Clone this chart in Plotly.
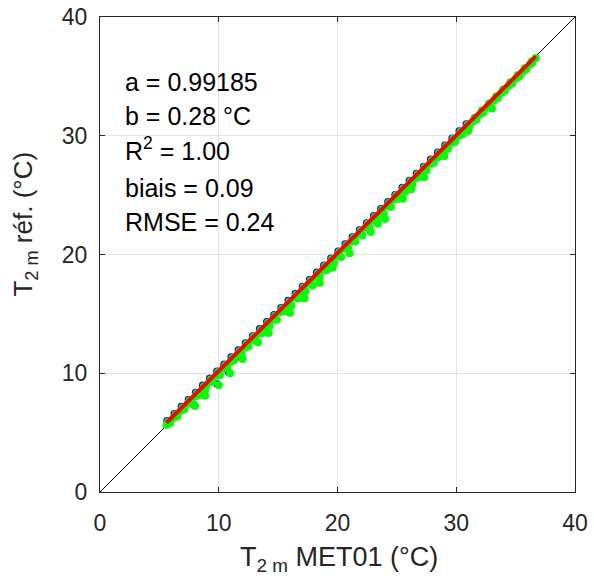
import plotly.graph_objects as go

# ---- data ----
green_x = [5.6, 6.2, 6.8, 7.4, 8.0, 8.6, 9.2, 9.8, 10.4, 11.0, 11.6, 12.2, 12.8, 13.4, 14.0, 14.6,
           15.2, 15.8, 16.4, 17.0, 17.6, 18.2, 18.8, 19.4, 20.0, 20.6, 21.2, 21.8, 22.4, 23.0, 23.6,
           24.2, 24.8, 25.4, 26.0, 26.6, 27.2, 27.8, 28.4, 29.0, 29.6, 30.2, 30.8, 31.4, 32.0, 32.6,
           33.2, 33.8, 34.4, 35.0, 35.6, 36.2, 36.7,
           5.9, 6.5, 7.1, 7.7, 8.3, 8.9, 9.5, 10.1, 10.7, 11.3, 11.9, 12.5, 13.1, 13.7, 14.3, 14.9,
           15.5, 16.1, 16.7, 17.3, 17.9, 18.5, 19.1, 19.7, 20.3, 20.9, 21.5, 22.1, 22.7, 23.3, 23.9,
           24.5, 25.1, 25.7, 26.3, 26.9, 27.5, 28.1, 28.7, 29.3, 29.9, 30.5, 31.1, 31.7, 32.3, 32.9,
           33.5, 34.1, 34.7, 35.3, 35.9, 36.4,
           5.75, 6.35, 6.95, 7.55, 8.15, 8.75, 9.35, 9.95, 10.55, 11.15, 11.75, 12.35, 12.95, 13.55,
           14.15, 14.75, 15.35, 15.95, 16.55, 17.15, 17.75, 18.35, 18.95, 19.55, 20.15, 20.75, 21.35,
           21.95, 22.55, 23.15, 23.75, 24.35, 24.95, 25.55, 26.15, 26.75, 27.35, 27.95, 28.55, 29.15,
           29.75, 30.35, 30.95, 31.55, 32.15, 32.75, 33.35, 33.95, 34.55, 35.15, 35.75, 36.35,
           8.0, 8.85, 12.0, 14.2, 16.0, 17.2, 18.5, 21.0, 22.8, 24.0, 25.5, 27.3, 29.0, 33.0,
           10.0, 10.95, 13.3, 19.6, 23.4, 26.2, 31.0]
green_y = [5.65, 6.25, 6.85, 7.45, 8.05, 8.6, 9.2, 9.8, 10.4, 10.95, 11.6, 12.15, 12.8, 13.35, 13.95, 14.55,
           15.15, 15.75, 16.35, 16.9, 17.55, 18.1, 18.7, 19.3, 19.9, 20.5, 21.1, 21.7, 22.3, 22.9, 23.45,
           24.05, 24.65, 25.25, 25.85, 26.45, 27.05, 27.65, 28.2, 28.8, 29.4, 30.0, 30.6, 31.2, 31.8, 32.4,
           33.0, 33.6, 34.2, 34.8, 35.4, 36.0, 36.55,
           5.8, 6.35, 6.95, 7.5, 8.15, 8.7, 9.3, 9.85, 10.5, 11.1, 11.6, 12.25, 12.8, 13.4, 14.0, 14.5,
           15.2, 15.7, 16.3, 16.9, 17.4, 18.1, 18.7, 19.3, 19.8, 20.5, 21.1, 21.6, 22.3, 22.9, 23.4,
           24.0, 24.7, 25.3, 25.9, 26.5, 27.1, 27.7, 28.3, 28.9, 29.5, 30.1, 30.75, 31.35, 31.95, 32.55,
           33.15, 33.8, 34.4, 35.0, 35.6, 36.15,
           5.93, 6.53, 7.12, 7.72, 8.31, 8.91, 9.50, 10.10, 10.69, 11.29, 11.88, 12.48, 13.07, 13.67,
           14.26, 14.86, 15.45, 16.05, 16.64, 17.24, 17.83, 18.43, 19.03, 19.62, 20.22, 20.81, 21.41,
           22.0, 22.6, 23.19, 23.79, 24.38, 24.98, 25.57, 26.17, 26.76, 27.36, 27.95, 28.55, 29.14,
           29.74, 30.33, 30.93, 31.52, 32.12, 32.71, 33.31, 33.9, 34.5, 35.09, 35.69, 36.28,
           7.25, 8.1, 11.2, 13.4, 15.1, 16.3, 17.6, 20.1, 21.9, 23.0, 24.7, 26.5, 28.3, 32.3,
           9.0, 10.0, 12.6, 18.9, 22.6, 25.5, 30.4]

blue_x = [5.65, 6.25, 6.85, 7.45, 8.05, 8.65, 9.25, 9.85, 10.45, 11.05, 11.65, 12.25, 12.85, 13.45,
          14.05, 14.65, 15.25, 15.85, 16.45, 17.05, 17.65, 18.25, 18.85, 19.45, 20.05, 20.65, 21.25,
          21.85, 22.45, 23.05, 23.65, 24.25, 24.85, 25.45, 26.05, 26.65, 27.25, 27.85, 28.45, 29.05,
          29.65, 30.25, 30.85,
          7.9, 8.75, 9.86, 10.8, 11.9]
blue_y = [6.0, 6.6, 7.19, 7.79, 8.38, 8.98, 9.57, 10.17, 10.76, 11.36, 11.95, 12.55, 13.14, 13.74,
          14.33, 14.93, 15.52, 16.12, 16.71, 17.31, 17.9, 18.5, 19.09, 19.69, 20.28, 20.88, 21.47,
          22.07, 22.66, 23.26, 23.85, 24.45, 25.04, 25.64, 26.23, 26.83, 27.42, 28.02, 28.61, 29.21,
          29.8, 30.4, 30.99,
          7.35, 8.2, 9.1, 10.1, 11.3]

fit_x = [5.6, 36.7]
fit_y = [5.83, 36.68]
ref_x = [0, 40]
ref_y = [0, 40]

stats_lines = ["a = 0.99185", "b = 0.28 °C", "R<sup>2</sup> = 1.00", "biais = 0.09", "RMSE = 0.24"]
tick_vals = [0, 10, 20, 30, 40]
x_title = "T<sub>2 m</sub> MET01 (°C)"
y_title = "T<sub>2 m</sub> réf. (°C)"

FONT = "Liberation Sans, Arial, sans-serif"
TXT = "#262626"

fig = go.Figure()
fig.add_trace(go.Scatter(x=ref_x, y=ref_y, mode="lines", line=dict(color="black", width=1),
                         showlegend=False, hoverinfo="skip"))
fig.add_trace(go.Scatter(x=blue_x, y=blue_y, mode="markers",
                         marker=dict(color="#0000ff", size=7.5, line=dict(width=0)), showlegend=False))
fig.add_trace(go.Scatter(x=green_x, y=green_y, mode="markers",
                         marker=dict(color="#00ff00", size=8, line=dict(width=0)), showlegend=False))
fig.add_trace(go.Scatter(x=fit_x, y=fit_y, mode="lines", line=dict(color="#ff0000", width=4),
                         showlegend=False))

stat_pos = [0.863, 0.792, 0.722, 0.640, 0.568]
for t, yp in zip(stats_lines, stat_pos):
    fig.add_annotation(x=0.048, y=yp, xref="paper", yref="paper", text=t,
                       showarrow=False, xanchor="left", yanchor="middle",
                       font=dict(family=FONT, size=25, color="black"))

fig.add_annotation(x=0.503, y=-0.142, xref="paper", yref="paper", text=x_title, showarrow=False,
                   xanchor="center", yanchor="middle", font=dict(family=FONT, size=27, color=TXT))
fig.add_annotation(x=-0.158, y=0.565, xref="paper", yref="paper", text=y_title, showarrow=False,
                   textangle=-90, xanchor="center", yanchor="middle",
                   font=dict(family=FONT, size=26, color=TXT))

axis_common = dict(range=[0, 40], tickvals=tick_vals, ticks="inside", ticklen=5, tickcolor=TXT,
                   showline=True, linecolor=TXT, linewidth=1, mirror="ticks",
                   showgrid=True, gridcolor="#e3e3e3", gridwidth=1, zeroline=False,
                   ticklabeloverflow="allow",
                   tickfont=dict(family=FONT, size=23, color=TXT))

fig.update_xaxes(**axis_common, ticklabelstandoff=10)
fig.update_yaxes(**axis_common, ticklabelstandoff=7)

fig.update_layout(width=594, height=582, margin=dict(l=100, r=19, t=17, b=90, autoexpand=False),
                  plot_bgcolor="white", paper_bgcolor="white", hovermode=False)

fig.write_html("out.html", config={"displayModeBar": False, "staticPlot": True},
               post_script="document.body.style.margin='0';document.body.style.overflow='hidden';")
